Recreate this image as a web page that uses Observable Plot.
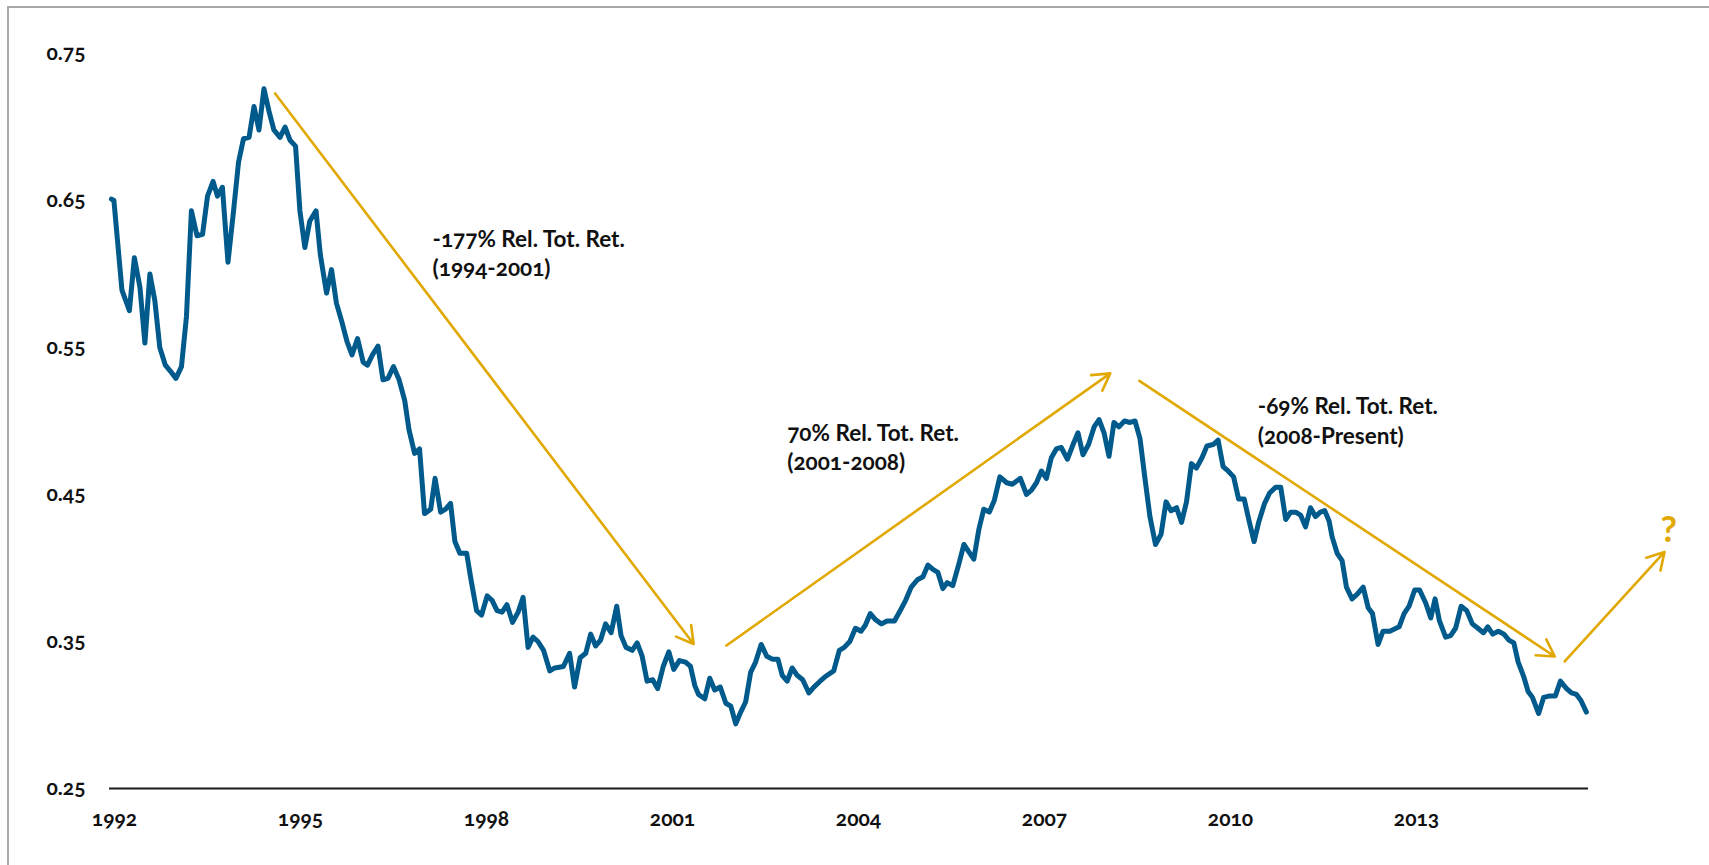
<!DOCTYPE html>
<html><head><meta charset="utf-8">
<script src="https://cdn.jsdelivr.net/npm/d3@7"></script>
<script src="https://cdn.jsdelivr.net/npm/@observablehq/plot@0.6"></script>
<style>
html,body{margin:0;padding:0;background:#fff;}
#wrap{position:relative;width:1709px;height:865px;overflow:hidden;font-family:Lato,"Open Sans",sans-serif;}
#frame{position:absolute;left:7px;top:6px;right:-10px;bottom:-10px;border-left:2px solid #a9a9a9;border-top:2px solid #a9a9a9;}
#chart{position:absolute;left:0;top:0;}
svg text{font-variant-numeric:oldstyle-nums;}
</style></head><body>
<div id="wrap"><div id="frame"></div><div id="chart"></div></div>
<script>
// Monthly relative ratio
const years = [
1991.95,1991.99,1992.12,1992.24,1992.32,1992.41,1992.49,1992.57,1992.65,1992.73,1992.82,1992.90,1992.99,
1993.08,1993.16,1993.24,1993.33,1993.42,1993.50,1993.59,1993.66,1993.74,1993.83,1993.92,1994.00,
1994.08,1994.17,1994.25,1994.33,1994.41,1994.49,1994.57,1994.67,1994.75,1994.83,1994.92,1994.99,
1995.07,1995.15,1995.25,1995.32,1995.42,1995.50,1995.58,1995.67,1995.75,1995.83,1995.92,1996.01,
1996.08,1996.16,1996.25,1996.33,1996.41,1996.50,1996.59,1996.68,1996.75,1996.84,1996.92,1997.00,
1997.10,1997.17,1997.26,1997.34,1997.42,1997.49,1997.57,1997.68,1997.75,1997.84,1997.92,1998.01,
1998.09,1998.17,1998.25,1998.33,1998.42,1998.51,1998.59,1998.67,1998.75,1998.83,1998.92,1999.02,
1999.10,1999.24,1999.34,1999.42,1999.51,1999.60,1999.68,1999.76,1999.84,1999.92,2000.01,2000.10,
2000.17,2000.25,2000.35,2000.43,2000.51,2000.59,2000.68,2000.76,2000.85,2000.94,2001.02,2001.11,
2001.21,2001.29,2001.36,2001.42,2001.52,2001.60,2001.68,2001.77,2001.86,2001.94,2002.02,2002.10,
2002.18,2002.26,2002.34,2002.43,2002.52,2002.61,2002.70,2002.77,2002.85,2002.93,2003.01,2003.10,
2003.20,2003.28,2003.38,2003.46,2003.60,2003.69,2003.77,2003.86,2003.95,2004.04,2004.11,2004.19,
2004.27,2004.37,2004.46,2004.58,2004.66,2004.76,2004.85,2004.95,2005.04,2005.12,2005.20,2005.28,
2005.36,2005.43,2005.52,2005.62,2005.70,2005.78,2005.86,2005.94,2006.02,2006.11,2006.19,2006.28,
2006.39,2006.48,2006.61,2006.71,2006.79,2006.87,2006.95,2007.03,2007.11,2007.19,2007.27,2007.37,
2007.46,2007.54,2007.62,2007.71,2007.80,2007.88,2007.96,2008.04,2008.12,2008.20,2008.29,2008.38,
2008.46,2008.54,2008.62,2008.70,2008.79,2008.88,2008.96,2009.04,2009.13,2009.21,2009.29,2009.37,
2009.45,2009.54,2009.62,2009.72,2009.80,2009.88,2009.96,2010.05,2010.13,2010.22,2010.30,2010.38,
2010.46,2010.55,2010.63,2010.73,2010.81,2010.89,2010.97,2011.05,2011.13,2011.21,2011.29,2011.37,
2011.45,2011.52,2011.59,2011.64,2011.72,2011.80,2011.87,2011.96,2012.04,2012.14,2012.22,2012.29,
2012.38,2012.46,2012.57,2012.72,2012.80,2012.88,2012.97,2013.05,2013.15,2013.23,2013.30,2013.37,
2013.47,2013.55,2013.63,2013.72,2013.81,2013.90,2013.99,2014.08,2014.15,2014.23,2014.32,2014.41,
2014.49,2014.57,2014.64,2014.73,2014.80,2014.87,2014.97,2015.05,2015.15,2015.24,2015.32,2015.42,
2015.50,2015.58,2015.65,2015.74];
const values = [
0.651,0.650,0.589,0.575,0.611,0.591,0.553,0.600,0.582,0.550,0.538,0.534,0.529,
0.537,0.571,0.643,0.626,0.627,0.653,0.663,0.653,0.659,0.608,0.643,0.676,
0.692,0.693,0.714,0.698,0.726,0.711,0.698,0.693,0.700,0.691,0.687,0.643,
0.618,0.636,0.643,0.613,0.587,0.603,0.580,0.567,0.554,0.545,0.556,0.540,
0.538,0.545,0.551,0.528,0.529,0.537,0.528,0.514,0.494,0.478,0.481,0.437,
0.440,0.461,0.438,0.440,0.444,0.418,0.410,0.410,0.392,0.371,0.368,0.381,
0.378,0.371,0.370,0.375,0.363,0.370,0.380,0.346,0.353,0.350,0.344,0.330,
0.332,0.333,0.342,0.319,0.339,0.342,0.355,0.347,0.351,0.362,0.356,0.374,
0.354,0.346,0.344,0.349,0.340,0.323,0.324,0.318,0.333,0.343,0.331,0.337,
0.336,0.333,0.320,0.314,0.311,0.325,0.317,0.319,0.308,0.306,0.294,0.302,
0.309,0.329,0.336,0.348,0.340,0.338,0.338,0.327,0.323,0.332,0.327,0.324,
0.315,0.319,0.323,0.326,0.330,0.344,0.346,0.350,0.359,0.357,0.361,0.369,
0.365,0.362,0.364,0.364,0.370,0.378,0.387,0.392,0.394,0.402,0.399,0.397,
0.386,0.390,0.388,0.403,0.416,0.411,0.406,0.426,0.440,0.438,0.446,0.462,
0.458,0.457,0.461,0.450,0.453,0.458,0.466,0.461,0.475,0.481,0.482,0.474,
0.484,0.492,0.477,0.484,0.496,0.501,0.492,0.476,0.499,0.496,0.500,0.499,
0.500,0.488,0.461,0.435,0.416,0.423,0.445,0.439,0.441,0.431,0.445,0.471,
0.468,0.475,0.483,0.484,0.487,0.469,0.466,0.462,0.447,0.447,0.432,0.418,
0.432,0.444,0.451,0.455,0.455,0.433,0.438,0.438,0.436,0.428,0.441,0.435,
0.438,0.439,0.432,0.421,0.410,0.405,0.387,0.379,0.382,0.387,0.373,0.369,
0.348,0.357,0.357,0.360,0.369,0.374,0.385,0.385,0.376,0.366,0.379,0.364,
0.353,0.354,0.359,0.374,0.371,0.362,0.359,0.356,0.360,0.355,0.357,0.355,
0.351,0.349,0.336,0.326,0.316,0.312,0.301,0.312,0.313,0.313,0.323,0.318,
0.315,0.314,0.310,0.302];

const xTicks = [1992, 1995, 1998, 2001, 2004, 2007, 2010, 2013];
const yTicks = [0.25, 0.35, 0.45, 0.55, 0.65, 0.75];

// Trend arrows (start/end in year, value)
const arrowX1 = [1994.59, 2001.87, 2008.53, 2015.39];
const arrowY1 = [0.7228, 0.3473, 0.5273, 0.3364];
const arrowX2 = [2001.34, 2008.06, 2015.23, 2017.00];
const arrowY2 = [0.3483, 0.5324, 0.3398, 0.4109];

// Annotation labels
const labelText = ["-177% Rel. Tot. Ret.", "(1994-2001)", "70% Rel. Tot. Ret.", "(2001-2008)", "-69% Rel. Tot. Ret.", "(2008-Present)"];
const labelX = [1997.13, 1997.13, 2002.85, 2002.85, 2010.44, 2010.44];
const labelY = [0.6235, 0.6037, 0.4915, 0.4718, 0.5099, 0.4891];
const questionX = [2017.07];
const questionY = [0.4255];

const data = years.map((y, i) => ({year: y, value: values[i]}));
const arrows = arrowX1.map((d, i) => ({x1: d, y1: arrowY1[i], x2: arrowX2[i], y2: arrowY2[i]}));
const labels = labelText.map((t, i) => ({text: t, x: labelX[i], y: labelY[i]}));
const question = questionX.map((d, i) => ({x: d, y: questionY[i], text: "?"}));

const BLUE = "#005a8b";
const GOLD = "#e0a800";

const chart = Plot.plot({
  width: 1709,
  height: 865,
  marginLeft: 109,
  marginRight: 121,
  marginTop: 53,
  marginBottom: 77,
  x: {domain: [1991.919, 2015.774]},
  y: {domain: [0.25, 0.75]},
  style: {background: "transparent", fontFamily: "Lato, 'Open Sans', sans-serif", overflow: "visible", color: "#111"},
  marks: [
    Plot.ruleY([0.25], {stroke: "#1a1a1a", strokeWidth: 2}),
    Plot.axisY({ticks: yTicks, tickFormat: d3.format(".2f"), tickSize: 0, tickPadding: 24, fontSize: 21, fontWeight: "bold", label: null, fill: "#111"}),
    Plot.axisX({ticks: xTicks, tickFormat: d => String(d), tickSize: 0, tickPadding: 23, fontSize: 21, fontWeight: "bold", label: null, fill: "#111"}),
    Plot.line(data, {x: "year", y: "value", stroke: BLUE, strokeWidth: 5, strokeLinejoin: "round", strokeLinecap: "round"}),
    Plot.arrow(arrows, {x1: "x1", y1: "y1", x2: "x2", y2: "y2", stroke: GOLD, strokeWidth: 2.6, headLength: 11, bend: 0}),
    Plot.text(labels, {x: "x", y: "y", text: "text", textAnchor: "start", fontSize: 22.5, fontWeight: "bold", fill: "#111"}),
    Plot.text(question, {x: "x", y: "y", text: "text", fontSize: 36, fontWeight: "bold", fill: GOLD})
  ]
});
document.getElementById("chart").appendChild(chart);
</script>
</body></html>
